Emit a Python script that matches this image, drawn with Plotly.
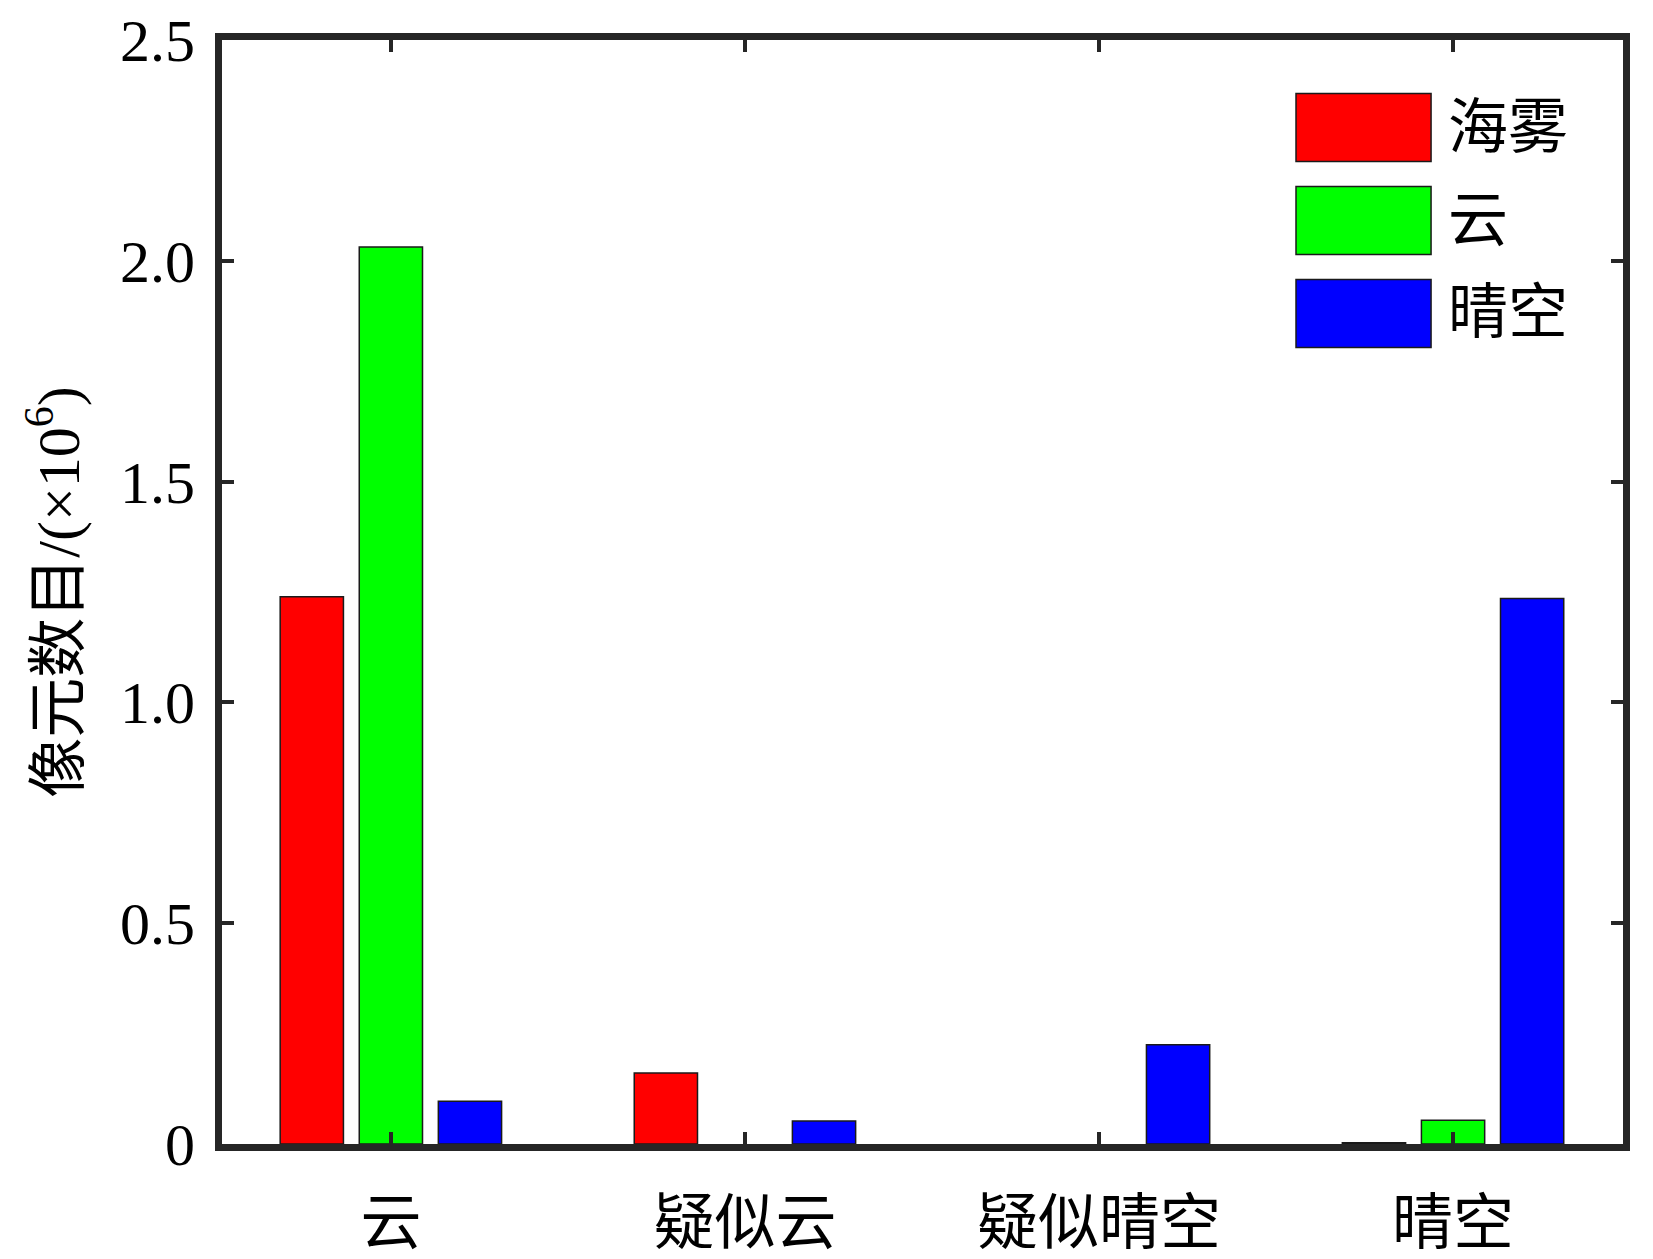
import plotly.graph_objects as go

categories = ["云", "疑似云", "疑似晴空", "晴空"]
series_names = ["海雾", "云", "晴空"]
sea_fog = [1.239, 0.161, 0.0, 0.003]
cloud = [2.031, 0.0, 0.0, 0.054]
clear_sky = [0.097, 0.052, 0.225, 1.235]
series_values = [sea_fog, cloud, clear_sky]
colors = ["#ff0000", "#00ff00", "#0000ff"]
y_tickvals = [0, 0.5, 1.0, 1.5, 2.0, 2.5]
y_ticktext = ["0", "0.5", "1.0", "1.5", "2.0", "2.5"]

serif = "Liberation Serif, Times New Roman, Noto Sans CJK SC"
axis_color = "#262626"

fig = go.Figure()
for name, vals, col in zip(series_names, series_values, colors):
    fig.add_trace(go.Bar(
        x=list(range(len(categories))),
        y=[v if v != 0 else None for v in vals],
        name=name,
        marker=dict(color=col, line=dict(color="#1a1a1a", width=1.5)),
        showlegend=False,
    ))

# custom legend with large swatches
leg_x0, leg_x1, leg_tx = 0.7666, 0.863, 0.874
leg_y = [0.9207, 0.8365, 0.7523]
half_h = 0.0308
for name, col, yc in zip(series_names, colors, leg_y):
    fig.add_shape(type="rect", xref="paper", yref="paper",
                  x0=leg_x0, x1=leg_x1, y0=yc - half_h, y1=yc + half_h,
                  fillcolor=col, line=dict(color="#1a1a1a", width=1.5))
    fig.add_annotation(xref="paper", yref="paper", x=leg_tx, y=yc,
                       text=name, showarrow=False, xanchor="left", yanchor="middle",
                       font=dict(family=serif, size=60, color="black"))

fig.update_layout(
    width=1653, height=1259,
    margin=dict(l=222, r=30, t=40, b=115),
    plot_bgcolor="white", paper_bgcolor="white",
    barmode="group", bargap=0.33, bargroupgap=0.2,
    font=dict(family=serif, color="black"),
)
fig.update_xaxes(
    range=[-0.477, 3.48], automargin=False,
    tickvals=list(range(len(categories))), ticktext=categories,
    tickfont=dict(family=serif, size=61, color="black"),
    ticks="inside", ticklen=12, tickwidth=4, tickcolor=axis_color,
    showline=True, linecolor=axis_color, linewidth=7, mirror="ticks",
    showgrid=False, zeroline=False, ticklabelstandoff=20,
)
fig.update_yaxes(
    range=[0, 2.5], automargin=False,
    tickvals=y_tickvals, ticktext=y_ticktext,
    tickfont=dict(family=serif, size=60, color="black"),
    ticks="inside", ticklen=12, tickwidth=4, tickcolor=axis_color,
    showline=True, linecolor=axis_color, linewidth=7, mirror="ticks",
    showgrid=False, zeroline=False, ticklabelstandoff=8,
    title=dict(text="像元数目/(×10<sup>6</sup>)", font=dict(family=serif, size=60, color="black"),
               standoff=24),
)
fig.write_html("out.html", config={"displayModeBar": False},
               post_script="document.body.style.margin='0';document.body.style.overflow='hidden';")
